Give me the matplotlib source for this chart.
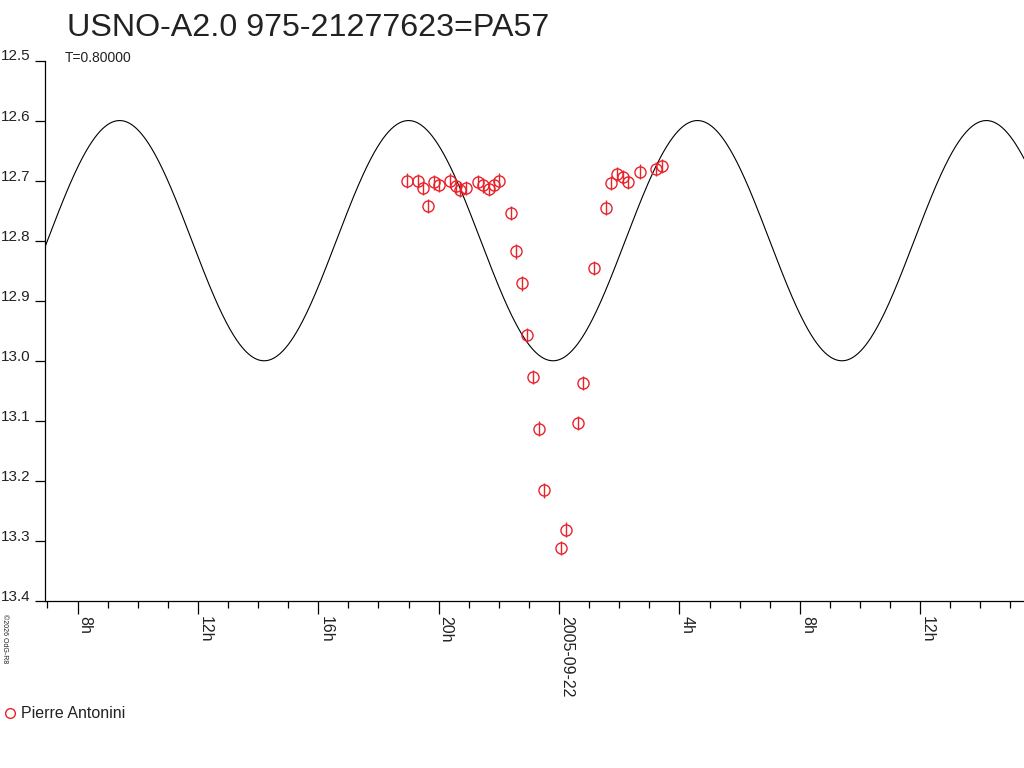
import numpy as np
import matplotlib
matplotlib.use("Agg")
import matplotlib.pyplot as plt
from matplotlib.lines import Line2D
from matplotlib.ticker import MultipleLocator

plt.rcParams['font.family'] = ['Liberation Sans', 'DejaVu Sans']

# ---- data (time in hours relative to 2005-09-22 00:00 UT, magnitude) ----
obs_hours = [-5.05, -4.68, -4.52, -4.35, -4.15, -3.99, -3.62, -3.42, -3.29, -3.10,
             -2.70, -2.52, -2.34, -2.16, -1.99, -1.60, -1.42, -1.22, -1.05, -0.87,
             -0.67, -0.49, 0.06, 0.24, 0.63, 0.81, 1.17, 1.57, 1.74, 1.91,
             2.13, 2.30, 2.70, 3.23, 3.42]
obs_mag = [12.700, 12.701, 12.712, 12.742, 12.703, 12.707, 12.700, 12.709, 12.715, 12.712,
           12.702, 12.708, 12.714, 12.707, 12.700, 12.754, 12.818, 12.871, 12.957, 13.027,
           13.113, 13.216, 13.312, 13.281, 13.104, 13.037, 12.846, 12.745, 12.704, 12.689,
           12.694, 12.702, 12.685, 12.681, 12.676]
obs_err = [0.012] * len(obs_mag)

observer = "Pierre Antonini"
title = "USNO-A2.0 975-21277623=PA57"
subtitle = "T=0.80000"
credit = "\u00a92026 OdG-R8"

# model light curve parameters
model_mean = 12.8
model_amp = 0.2
model_period_h = 9.6
model_min_epoch_h = -0.2

x_range = (-17.08, 15.45)
y_ticks = [12.5, 12.6, 12.7, 12.8, 12.9, 13.0, 13.1, 13.2, 13.3, 13.4]
y_tick_labels = ["12.5", "12.6", "12.7", "12.8", "12.9", "13.0", "13.1", "13.2", "13.3", "13.4"]
x_major = [-16, -12, -8, -4, 0, 4, 8, 12]
x_major_labels = ["8h", "12h", "16h", "20h", "2005-09-22", "4h", "8h", "12h"]

RED = '#e8232b'

fig = plt.figure(figsize=(10.24, 7.68), dpi=100)
W, H = 1024, 768
ax = fig.add_axes([45 / W, 1 - 601 / H, (W - 45) / W, (601 - 60.5) / H])

t = np.linspace(x_range[0], x_range[1], 1500)
model = model_mean + model_amp * np.cos(2 * np.pi * (t - model_min_epoch_h) / model_period_h)
ax.plot(t, model, color='black', lw=0.8)

ax.errorbar(obs_hours, obs_mag, yerr=obs_err, fmt='o', ms=8, mfc='none', mec=RED,
            mew=1.0, ecolor=RED, elinewidth=1.0, capsize=0, clip_on=False)

ax.set_xlim(*x_range)
ax.set_ylim(13.4, 12.5)

for s in ['top', 'right']:
    ax.spines[s].set_visible(False)
for s in ['left', 'bottom']:
    ax.spines[s].set_linewidth(0.9)

ax.set_yticks(y_ticks)
ax.set_yticklabels(y_tick_labels, fontsize=11, color='#222222')
ax.tick_params(axis='y', direction='out', length=7.5, width=0.9, pad=3)
for lab in ax.get_yticklabels():
    lab.set_va('baseline')

ax.set_xticks(x_major)
ax.set_xticklabels(x_major_labels, fontsize=11.5, color='#222222', rotation=-90,
                   ha='left', va='top')
ax.xaxis.set_minor_locator(MultipleLocator(1))
ax.tick_params(axis='x', which='major', direction='out', length=9, width=0.9, pad=1.5)
ax.tick_params(axis='x', which='minor', direction='out', length=5, width=0.9)

fig.text(67 / W, 1 - 28 / H, title, fontsize=23.2, color='#222222', ha='left', va='center')
fig.text(65 / W, 1 - 58 / H, subtitle, fontsize=10, color='#222222', ha='left', va='center')
fig.text(4 / W, 1 - 614 / H, credit, fontsize=5, rotation=-90, ha='center', va='top',
         color='#222222')

fig.add_artist(Line2D([10 / W], [1 - 713 / H], marker='o', ms=7, mfc='none', mec=RED,
                      mew=1.0, transform=fig.transFigure, linestyle='none'))
fig.text(21 / W, 1 - 713 / H, observer, fontsize=11.5, color='#222222', ha='left', va='center')

fig.savefig('out.png', dpi=100)
